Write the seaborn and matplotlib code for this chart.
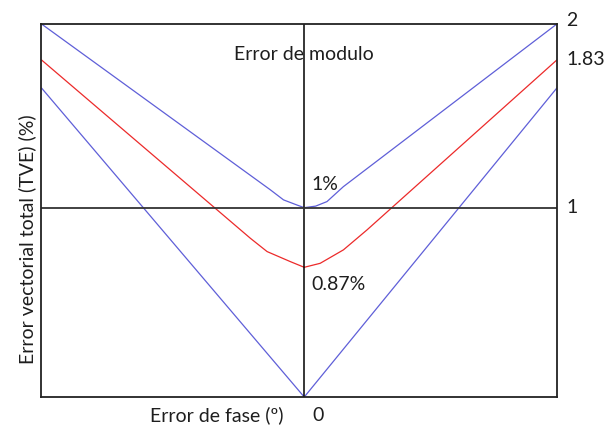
import matplotlib

matplotlib.use("Agg")
import matplotlib.pyplot as plt
import seaborn as sns

# Data (x: phase error, y: TVE %)
upper_x = [-1.04, -0.134, -0.082, -0.029, 0.0, 0.045, 0.090, 0.155, 1.0]
upper_y = [1.97, 1.094, 1.041, 1.014, 1.0, 1.008, 1.032, 1.111, 1.97]

mid_x = [-1.04, -0.213, -0.147, -0.055, 0.0, 0.063, 0.155, 0.248, 1.0]
mid_y = [1.78, 0.838, 0.768, 0.715, 0.685, 0.706, 0.777, 0.882, 1.78]

lower_x = [-1.04, 0.0, 1.0]
lower_y = [1.632, 0.0, 1.632]

right_labels = ["2", "1.83", "1"]
right_pos = [1.99, 1.78, 1.0]

sns.set_theme(style="white")
plt.rcParams["font.family"] = ["Lato", "DejaVu Sans"]

txt = "#1e1e1e"
blue = "#5f5fd8"
red = "#ec2a2a"

fig = plt.figure(figsize=(6.04, 4.28), dpi=100)
ax = fig.add_axes([0.0687, 0.0724, 0.8533, 0.8716])

sns.lineplot(x=upper_x, y=upper_y, sort=False, estimator=None, color=blue, lw=0.9, ax=ax)
sns.lineplot(x=mid_x, y=mid_y, sort=False, estimator=None, color=red, lw=0.9, ax=ax)
sns.lineplot(x=lower_x, y=lower_y, sort=False, estimator=None, color=blue, lw=0.9, ax=ax)

ax.axvline(0, color="black", lw=1.1)
ax.axhline(1, color="#333333", lw=1.3)

ax.set_xlim(-1.04, 1.0)
ax.set_ylim(0, 1.97)
ax.set_xticks([])
ax.set_yticks([])
for s in ax.spines.values():
    s.set_color("#222222")
    s.set_linewidth(1.3)

fs = 14
for lab, yy in zip(right_labels, right_pos):
    ax.text(1.036, yy, lab, ha="left", va="center", fontsize=fs, color=txt, clip_on=False)

ax.text(0.0, 1.807, "Error de modulo", ha="center", va="center", fontsize=fs, color=txt)
ax.text(0.03, 1.12, "1%", ha="left", va="center", fontsize=fs, color=txt)
ax.text(0.03, 0.592, "0.87%", ha="left", va="center", fontsize=fs, color=txt)
ax.text(-0.348, -0.095, "Error de fase (º)", ha="center", va="center", fontsize=fs, color=txt, clip_on=False)
ax.text(0.055, -0.095, "0", ha="center", va="center", fontsize=fs, color=txt, clip_on=False)
ax.text(-1.095, 0.835, "Error vectorial total (TVE) (%)", ha="center", va="center",
        rotation=90, fontsize=fs, color=txt, clip_on=False)

plt.savefig("out.png", dpi=100)
